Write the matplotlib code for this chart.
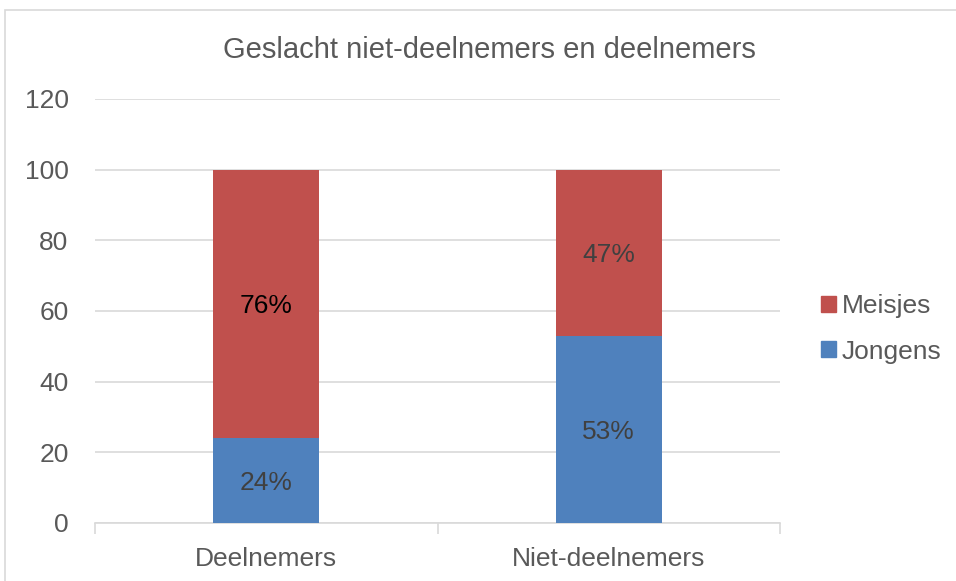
import matplotlib
matplotlib.use("Agg")
import matplotlib.pyplot as plt
from matplotlib.patches import Rectangle, Patch

categories = ["Deelnemers", "Niet-deelnemers"]
jongens = [24, 53]
meisjes = [76, 47]
jongens_labels = ["24%", "53%"]
meisjes_labels = ["76%", "47%"]
yticks = [0, 20, 40, 60, 80, 100, 120]

plt.rcParams['font.family'] = ['Liberation Sans', 'DejaVu Sans']
W, H = 956, 581
fig = plt.figure(figsize=(W/100, H/100), dpi=100)
fig.patches.append(Rectangle((5/W, -0.01), 1.0, 1 - 10/H + 0.01, transform=fig.transFigure,
                             fill=False, edgecolor='#d9d9d9', linewidth=1.2))
ax = fig.add_axes([95/W, 1 - 523/H, (780 - 95)/W, (523 - 99)/H])

blue = '#4F81BD'
red = '#C0504D'
x = range(len(categories))
bw = 0.31
ax.bar(x, jongens, bw, color=blue, zorder=3, label='Jongens')
ax.bar(x, meisjes, bw, bottom=jongens, color=red, zorder=3, label='Meisjes')

fs = 19
for i in x:
    ax.text(i, jongens[i] / 2, jongens_labels[i], ha='center', va='center_baseline',
            fontsize=fs, color='#404040', zorder=4)
    ax.text(i, jongens[i] + meisjes[i] / 2, meisjes_labels[i], ha='center', va='center_baseline',
            fontsize=fs, color='#000000' if i == 0 else '#404040', zorder=4)

ax.set_xlim(-0.5, 1.5)
ax.set_ylim(0, 120)
ax.set_yticks(yticks)
ax.set_xticks(list(x))
ax.set_xticklabels(categories)
ax.yaxis.grid(True, color='#d9d9d9', linewidth=1.2, zorder=0)
ax.set_axisbelow(True)
for s in ['top', 'right', 'left']:
    ax.spines[s].set_visible(False)
ax.spines['bottom'].set_color('#d9d9d9')
ax.spines['bottom'].set_linewidth(1.2)
ax.tick_params(axis='y', length=0, labelsize=fs, labelcolor='#595959', pad=19)
ax.tick_params(axis='x', length=0, labelsize=fs, labelcolor='#595959', pad=17)
ax.set_xticks([-0.5, 0.5, 1.5], minor=True)
ax.tick_params(axis='x', which='minor', length=8, color='#d9d9d9', width=1.2, direction='out')

fig.text(489 / W, 1 - 50/H, "Geslacht niet-deelnemers en deelnemers",
         ha='center', va='center', fontsize=21, color='#595959')

handles = [Patch(color=red, label='Meisjes'), Patch(color=blue, label='Jongens')]
leg = fig.legend(handles=handles, loc='center left', bbox_to_anchor=(821/W, 1 - 329/H),
                 frameon=False, fontsize=fs, handlelength=0.55, handleheight=0.55,
                 handletextpad=0.25, labelspacing=0.8, borderaxespad=0, borderpad=0)
for t in leg.get_texts():
    t.set_color('#595959')

fig.savefig("out.png", dpi=100)
